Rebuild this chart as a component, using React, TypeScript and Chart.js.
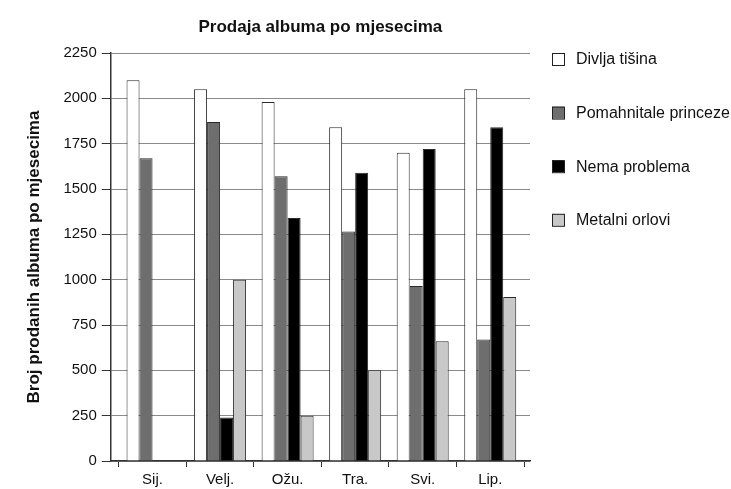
import React, { useEffect, useRef } from "react";
import { Chart, registerables } from "chart.js";

Chart.register(...registerables);

const categories = ["Sij.", "Velj.", "Ožu.", "Tra.", "Svi.", "Lip."];
const seriesNames = ["Divlja tišina", "Pomahnitale princeze", "Nema problema", "Metalni orlovi"];
const divljaTisina = [2100, 2050, 1980, 1840, 1700, 2050];
const pomahnitalePrinceze = [1670, 1870, 1570, 1265, 965, 670];
const nemaProblema = [null, 240, 1340, 1590, 1720, 1840];
const metalniOrlovi = [null, 1000, 250, 500, 660, 905];
const seriesColors = ["#ffffff", "#6e6e6e", "#000000", "#c8c8c8"];

const FONT = "'Liberation Sans', Arial, sans-serif";

// The category band sits slightly inside the plot frame (as in the reference)
const insetPlugin = {
  id: "categoryInset",
  afterLayout(chart: any) {
    const s = chart.scales.x;
    if (!s) return;
    s._startPixel = s.left + 8;
    s._endPixel = s.right - 6;
    s._length = s._endPixel - s._startPixel;
  },
};

const legendPlugin = {
  id: "customLegend",
  afterDraw(chart: any) {
    const ctx = chart.ctx;
    const area = chart.chartArea;
    const x = area.right + 22;
    const y0 = 59;
    const step = 53.6;
    ctx.save();
    ctx.font = `16px ${FONT}`;
    ctx.textBaseline = "middle";
    ctx.textAlign = "left";
    chart.data.datasets.forEach((ds: any, i: number) => {
      const cy = y0 + i * step;
      ctx.fillStyle = ds.backgroundColor;
      ctx.fillRect(x, cy - 6, 12, 12);
      ctx.strokeStyle = "#222";
      ctx.lineWidth = 1;
      ctx.strokeRect(x + 0.5, cy - 5.5, 12, 12);
      ctx.fillStyle = "#111";
      ctx.fillText(ds.label, x + 24, cy + 1);
    });
    ctx.restore();
  },
};

export default function App() {
  const ref = useRef<HTMLCanvasElement | null>(null);
  useEffect(() => {
    if (!ref.current) return;
    const data = [divljaTisina, pomahnitalePrinceze, nemaProblema, metalniOrlovi];
    const chart = new Chart(ref.current, {
      type: "bar",
      data: {
        labels: categories,
        datasets: seriesNames.map((name, i) => ({
          label: name,
          data: data[i] as any,
          backgroundColor: seriesColors[i],
          borderColor: "#2a2a2a",
          borderWidth: 1,
          categoryPercentage: 0.77,
          barPercentage: 1,
        })),
      },
      options: {
        animation: false,
        responsive: false,
        layout: { padding: { left: 20, right: 201, top: 0, bottom: -3 } },
        plugins: {
          legend: { display: false },
          tooltip: { enabled: false },
          title: {
            display: true,
            text: "Prodaja albuma po mjesecima",
            fullSize: false,
            color: "#111",
            font: { family: FONT, size: 17, weight: "bold" },
            padding: { top: 17, bottom: 15.6 },
          },
        },
        scales: {
          x: {
            grid: {
              display: true,
              drawOnChartArea: false,
              drawTicks: true,
              tickLength: 6,
              color: "#333",
              offset: true,
            },
            border: { display: true, color: "#333", width: 1.5 },
            ticks: {
              color: "#111",
              padding: 5,
              font: { family: FONT, size: 15, lineHeight: 1 },
            },
          },
          y: {
            min: 0,
            max: 2250,
            ticks: {
              stepSize: 250,
              color: "#111",
              padding: 5,
              font: { family: FONT, size: 15 },
              callback: (v: any) => String(v),
            },
            grid: {
              color: "#8a8a8a",
              tickColor: "#333",
              tickLength: 9,
              lineWidth: 1,
            },
            border: { display: true, color: "#333", width: 1.5 },
            title: {
              display: true,
              text: "Broj prodanih albuma po mjesecima",
              color: "#111",
              font: { family: FONT, size: 17, weight: "bold" },
              padding: { top: 4, bottom: 14 },
            },
          },
        },
      },
      plugins: [insetPlugin, legendPlugin],
    });
    return () => chart.destroy();
  }, []);
  return (
    <div style={{ position: "absolute", left: 0, top: 0, width: 731, height: 489, background: "#fff" }}>
      <canvas ref={ref} width={731} height={489} />
    </div>
  );
}
